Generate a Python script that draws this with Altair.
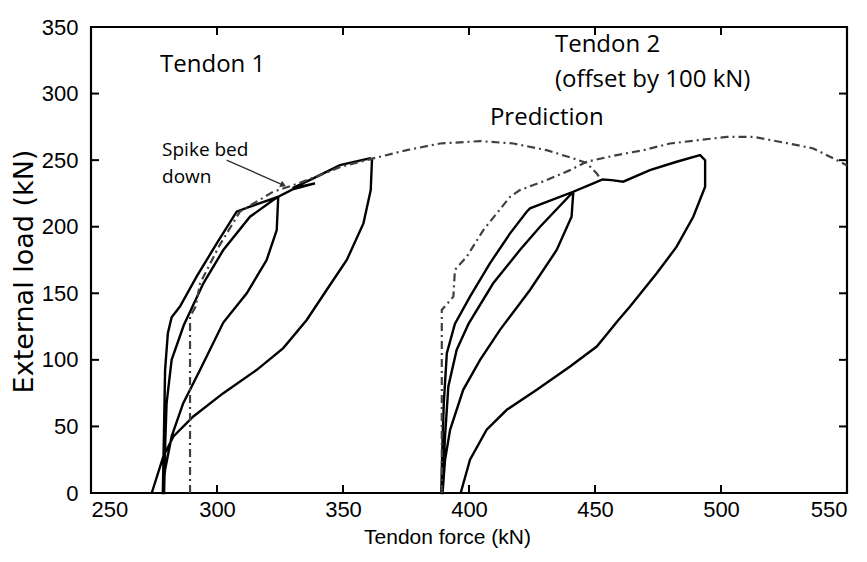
import altair as alt
import pandas as pd

# ---- data (x = tendon force kN, y = external load kN) ----
t1_x = [278.5, 279, 279.4, 280.5, 282, 285.3, 291.9, 299.9, 307.8, 313.1, 324.3,
        323.7, 319.7, 311.8, 302.5, 293.3, 286.6, 282, 279.4, 278.5,
        279, 279.5, 280, 282, 286.8, 294.6, 302.5, 313.1, 322.3, 324.3,
        330, 338.9, 330, 338.2, 348.8, 360.7, 361.5, 361, 358.1, 351.5, 343.5, 335.6,
        326.3, 315.8, 302.5, 290.6, 282.7, 278.7, 274.1]
t1_y = [0, 50, 92.5, 120, 132, 140, 162.5, 187.5, 211.3, 215, 222.5,
        197.5, 175, 150, 128, 92.5, 67.5, 42.5, 17.5, 0,
        0, 40, 67.5, 100, 126, 157.5, 182.5, 207.5, 220, 222.5,
        228, 232.5, 229, 236.3, 246.3, 251.3, 250, 227.5, 202.5, 175, 152.5, 130,
        108.8, 92.5, 75, 57.5, 42.5, 27.5, 0]

t2_x = [389, 389.5, 390, 391.2, 394.4, 400.4, 408.3, 416.3, 422.9, 424.2, 441.4,
        440.7, 434.8, 424.2, 412.3, 404.4, 397.7, 392.5, 390.5, 389.5,
        389.3, 390.5, 391.8, 395.1, 399.8, 409.6, 420.2, 428.2, 441.4,
        449.3, 453, 456.6, 461.2, 471.8, 482.4, 491.7, 493.7, 493.7, 489, 482.4, 474.5,
        463.9, 459.3, 450.7, 440.1, 426.9, 415, 407, 400.4, 396.7]
t2_y = [0, 40, 67.5, 105, 127, 147.5, 172.5, 195, 211.3, 213.8, 226.3,
        207.5, 182.5, 152.5, 122.5, 100, 77.5, 47.5, 25, 0,
        0, 42.5, 80, 107.5, 127, 157.5, 182.5, 200, 226.3,
        232.5, 235.5, 235, 233.8, 242.5, 248.8, 253.8, 250, 230, 207.5, 185, 165,
        140, 130, 110, 95, 77.5, 62.5, 47.5, 25, 0]

p1_x = [289.3, 289.3, 291.5, 293.3, 301, 309.1, 322.3, 330, 340, 349, 362, 375.3,
        388.5, 404.4, 417.6, 430.8, 441.4, 446.7, 450.7, 452]
p1_y = [0, 132.5, 140, 157.5, 186, 211.3, 226.3, 231, 238, 245, 251.3, 257.5,
        262.5, 264.3, 262.5, 257.5, 251.3, 247.8, 240, 236.3]

p2_x = [389.2, 389.2, 393.8, 394.4, 399.1, 405.7, 416.3, 420.2, 430.8, 440.1, 446.7,
        458.6, 469.2, 479.8, 502.3, 512.8, 526.1, 536.6, 547.2, 550]
p2_y = [0, 137.5, 147.5, 167.5, 177.5, 197.5, 222.5, 227.5, 235, 242.5, 248.8,
        253.8, 257.5, 262.5, 267.5, 267.5, 262.8, 258.8, 248.8, 246]

x_ticks = [250, 300, 350, 400, 450, 500, 550]
y_ticks = [0, 50, 100, 150, 200, 250, 300, 350]
inner_x_ticks = [300, 350, 400, 450, 500]
inner_y_ticks = [50, 100, 150, 200, 250, 300]

labels_big = ["Tendon 1", "Tendon 2", "(offset by 100 kN)", "Prediction"]
labels_big_x = [277.4, 434.1, 434.1, 408.3]
labels_big_y = [321.3, 336.3, 310, 281.5]
labels_small = ["Spike bed", "down"]
labels_small_x = [278.2, 278.2]
labels_small_y = [257.4, 237.5]
arrow_x = [303.8, 326.3]
arrow_y = [250, 231.3]

W, H = 756, 466
AX_FONT = "Liberation Sans, Arial, sans-serif"
TX_FONT = "Open Sans, Noto Sans, sans-serif"


def path(name, xs, ys):
    return pd.DataFrame({"x": xs, "y": ys, "o": range(len(xs)), "s": name})


solid = pd.concat([path("t1", t1_x, t1_y), path("t2", t2_x, t2_y)])
pred = pd.concat([path("p1", p1_x, p1_y), path("p2", p2_x, p2_y)])

xs = alt.Scale(domain=[250, 550], nice=False)
ys = alt.Scale(domain=[0, 350], nice=False)

base_x = alt.X("x:Q", scale=xs, axis=alt.Axis(
    values=x_ticks, title="Tendon force (kN)", grid=False, domain=False, ticks=False,
    labelFont=AX_FONT, labelFontSize=22, labelPadding=6, labelColor="black",
    titleFont=AX_FONT, titleFontSize=21, titleFontWeight="normal", titleColor="black",
    titlePadding=6, titleX=356))
base_y = alt.Y("y:Q", scale=ys, axis=alt.Axis(
    values=y_ticks, title="External load (kN)", grid=False, domain=False, ticks=False,
    labelFont=AX_FONT, labelFontSize=22, labelPadding=13, labelColor="black",
    titleFont="DejaVu Sans, sans-serif", titleFontSize=27, titleFontWeight="normal",
    titleColor="black", titlePadding=3, titleY=244))

solid_lines = alt.Chart(solid).mark_line(color="black", strokeWidth=2.4).encode(
    x=base_x, y=base_y, detail="s:N", order="o:Q")

pred_lines = alt.Chart(pred).mark_line(color="#404040", strokeWidth=2.2, strokeDash=[8, 4, 2, 4]).encode(
    x="x:Q", y="y:Q", detail="s:N", order="o:Q")

tx = pd.DataFrame({"x": inner_x_ticks})
ty = pd.DataFrame({"y": inner_y_ticks})
tick_b = alt.Chart(tx).mark_rule(color="black", strokeWidth=2).encode(
    x="x:Q", y=alt.value(H), y2=alt.value(H - 8))
tick_t = alt.Chart(tx).mark_rule(color="black", strokeWidth=2).encode(
    x="x:Q", y=alt.value(0), y2=alt.value(8))
tick_l = alt.Chart(ty).mark_rule(color="black", strokeWidth=2).encode(
    y="y:Q", x=alt.value(0), x2=alt.value(8))
tick_r = alt.Chart(ty).mark_rule(color="black", strokeWidth=2).encode(
    y="y:Q", x=alt.value(W), x2=alt.value(W - 8))

big = alt.Chart(pd.DataFrame({"t": labels_big, "x": labels_big_x, "y": labels_big_y})).mark_text(
    align="left", baseline="middle", font=TX_FONT, fontSize=24, color="black").encode(
    x="x:Q", y="y:Q", text="t:N")
small = alt.Chart(pd.DataFrame({"t": labels_small, "x": labels_small_x, "y": labels_small_y})).mark_text(
    align="left", baseline="middle", font=TX_FONT, fontSize=19, color="black").encode(
    x="x:Q", y="y:Q", text="t:N")

arrow_df = pd.DataFrame({"x": arrow_x, "y": arrow_y, "o": [0, 1]})
arrow_line = alt.Chart(arrow_df).mark_line(color="#333333", strokeWidth=1.4).encode(
    x="x:Q", y="y:Q", order="o:Q")
arrow_head = alt.Chart(arrow_df.iloc[[1]]).mark_point(
    shape="triangle-right", angle=24, size=45, filled=True, color="#333333", opacity=1).encode(
    x="x:Q", y="y:Q")

chart = alt.layer(solid_lines, pred_lines, tick_b, tick_t, tick_l, tick_r,
                  big, small, arrow_line, arrow_head).properties(
    width=W, height=H,
    autosize=alt.AutoSizeParams(type="none"),
    padding={"left": 91, "top": 27, "right": 20, "bottom": 69},
    background="white",
).configure_view(stroke="black", strokeWidth=2.2)

chart.save("out.html", embed_options={"renderer": "svg", "actions": False})
